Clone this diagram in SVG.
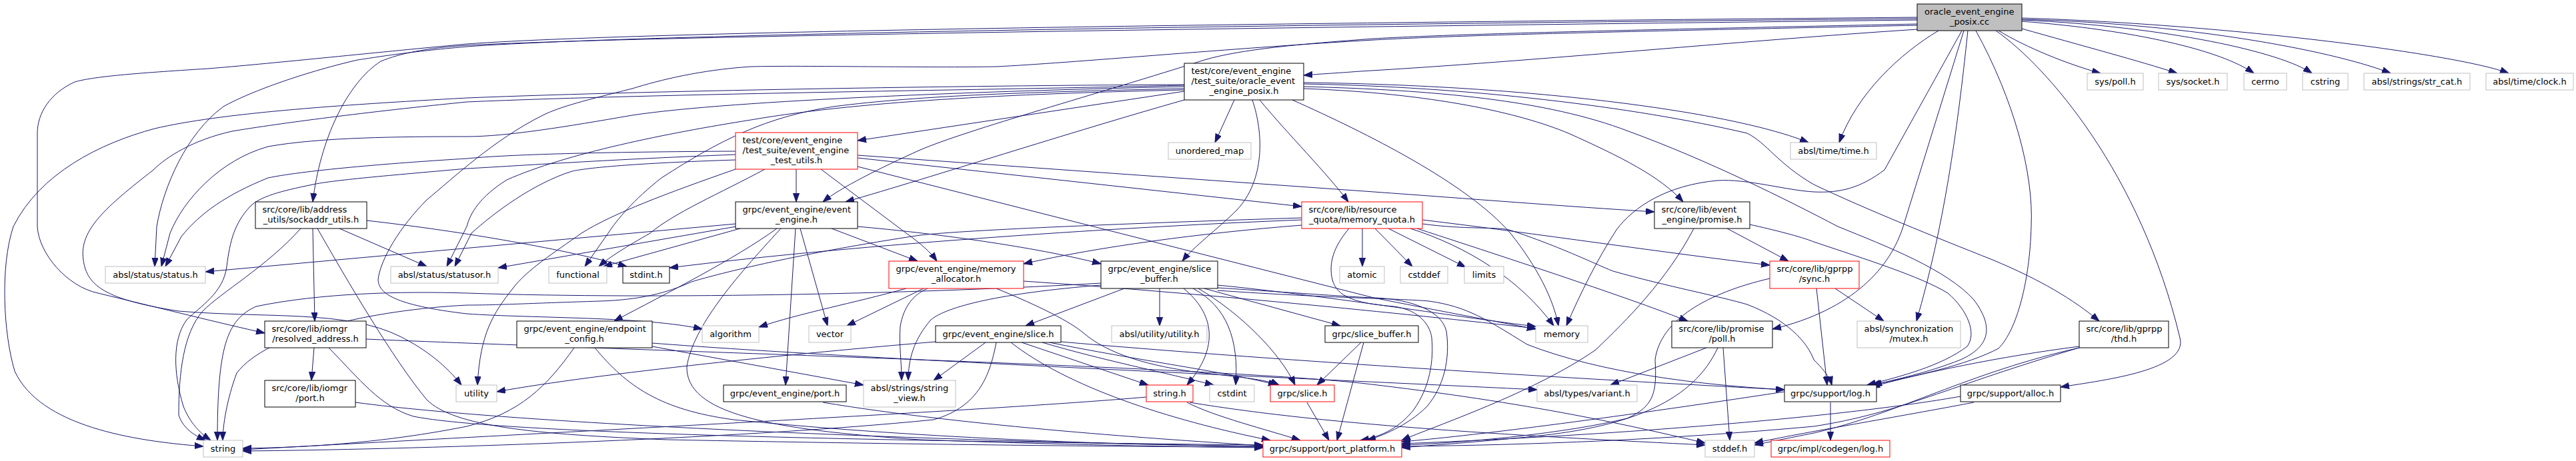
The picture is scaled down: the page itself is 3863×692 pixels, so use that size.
<svg xmlns="http://www.w3.org/2000/svg" width="3863" height="692" viewBox="0 0 3863 692">
<style>
text{font-family:"DejaVu Sans","Liberation Sans",sans-serif;font-size:13px;fill:#000}
.m{text-anchor:middle}
.k rect{fill:#fff;stroke:#000;stroke-width:1}
.g rect{fill:#fff;stroke:#bfbfbf;stroke-width:1}
.r rect{fill:#fff;stroke:#ff0000;stroke-width:1}
.root rect{fill:#bfbfbf;stroke:#000;stroke-width:1}
#edges path{fill:none;stroke:#191970;stroke-width:1;marker-end:url(#a)}
</style>
<defs>
<marker id="a" markerUnits="userSpaceOnUse" viewBox="0 0 14 10" markerWidth="14" markerHeight="10" refX="13" refY="4.65" orient="auto"><path d="M0,0L13,4.65L0,9.3z" fill="#191970" stroke="#191970" stroke-width="1"/></marker>
</defs>
<rect x="0" y="0" width="3863" height="692" fill="#fff"/>
<g id="edges">
<path d="M2997,46 C3040,72 3100,96 3150,110"/>
<path d="M3032,43 C3120,68 3210,92 3265,110"/>
<path d="M3032,32 C3200,45 3330,75 3380,110"/>
<path d="M3032,30 C3250,40 3420,78 3467,110"/>
<path d="M3032,29 C3300,36 3510,80 3585,110"/>
<path d="M3032,27 C3350,37 3690,82 3762,110"/>
<path d="M2907,46 C2850,80 2785,140 2758,214"/>
<path d="M2942,46 L2826,255 C2790,282 2760,290 2720,288 C2680,286 2620,268 2575,271 C2500,278 2450,310 2424,345 C2395,390 2370,440 2349,489"/>
<path d="M2945,46 L2854,340 C2835,400 2780,465 2658,494"/>
<path d="M2951,46 C2935,200 2915,340 2874,482"/>
<path d="M2963,46 C3020,150 3050,260 3046,340 C3044,420 3025,495 2997,523 C2950,548 2870,565 2806,578"/>
<path d="M2993,46 C3070,100 3210,260 3269,507 C3282,555 3160,570 3090,581"/>
<path d="M2875,44 C2600,62 2300,92 2040,107 C2000,110 1980,111 1955,113"/>
<path d="M2875,36 C2500,44 2200,50 2060,58 C1950,66 1860,74 1806,90 C1650,140 1450,195 1380,225 C1320,252 1260,282 1234,303"/>
<path d="M2875,38 C2500,46 2200,52 2060,60 C1850,72 1600,95 1494,100 C1400,102 1200,98 1126,100 C1050,105 990,120 948,133 C880,150 840,160 814,173 C740,210 680,267 640,300 C600,340 570,390 567,420 C568,440 590,458 700,471 C800,478 970,475 1053,494"/>
<path d="M2875,28 C2200,34 1000,48 700,70 C610,78 570,85 536,90 C450,110 370,140 335,160 C280,200 245,280 235,340 L232,400"/>
<path d="M2875,30 C2200,38 1000,52 700,68 C640,72 600,80 571,92 C520,125 480,210 469,303"/>
<path d="M2875,26 C2200,32 1000,44 700,66 C550,80 400,96 312,103 C200,110 140,115 112,123 C75,140 56,170 56,200 L56,340 C58,380 100,430 147,440 C250,465 330,485 397,500"/>
<path d="M1851,150 L1822,214"/>
<path d="M1889,150 C1930,200 1990,260 2022,303"/>
<path d="M1878,150 C1895,200 1897,270 1855,315 C1825,345 1790,370 1773,392"/>
<path d="M1938,150 C2050,200 2200,275 2265,350 C2305,400 2330,450 2337,489"/>
<path d="M1776,137 L1286,211"/>
<path d="M1776,150 C1600,200 1400,265 1268,303"/>
<path d="M1776,127 C1500,128 1000,135 700,147 C500,158 330,170 232,193 C150,215 60,260 20,340 C0,400 5,500 22,557 C60,640 200,662 305,670"/>
<path d="M1776,128 C1500,135 1000,140 700,153 C550,168 420,185 348,197 C290,210 250,235 230,255 C160,310 118,345 125,390 C130,430 160,450 268,467 C400,478 520,465 600,505 C640,525 670,550 692,578"/>
<path d="M1776,130 C1500,136 1100,150 948,173 C850,190 760,205 700,205 C600,205 480,206 402,220 C330,240 275,300 255,350 L242,400"/>
<path d="M1776,133 C1550,138 1380,143 1250,160 C1150,175 1080,210 992,267 C950,300 925,330 912,350 L877,400"/>
<path d="M1776,135 C1550,140 1300,150 1126,180 C1000,200 850,230 760,270 C720,295 705,320 700,340 L670,400"/>
<path d="M1955,124 C2300,128 2600,168 2712,214"/>
<path d="M1955,126 C2200,130 2450,160 2620,200 C2650,215 2665,245 2720,277 C2800,315 2900,355 2988,390 C3060,420 3110,450 3148,482"/>
<path d="M1955,130 C2150,135 2320,150 2442,197 C2560,240 2680,300 2756,340 C2830,370 2920,405 2960,450 C2990,490 2985,520 2940,540 C2890,560 2840,570 2809,578"/>
<path d="M1955,133 C2150,140 2280,170 2352,200 C2430,235 2490,265 2524,303"/>
<path d="M2624,337 C2660,345 2700,355 2720,363 C2800,390 2880,415 2921,440 C2950,465 2965,500 2950,520 C2910,550 2850,565 2800,578"/>
<path d="M2590,343 L2682,392"/>
<path d="M2540,343 C2500,420 2440,480 2393,525 C2300,590 2150,640 2102,661"/>
<path d="M1194,254 L1194,303"/>
<path d="M1103,227 C900,228 760,232 700,238 C600,244 460,255 402,267 C340,292 300,320 272,355 L248,400"/>
<path d="M1103,232 C900,240 760,250 700,253 C600,262 500,270 469,277 C420,287 390,295 375,310 C352,335 345,360 340,400 C335,440 300,460 280,480 C258,510 260,560 275,610 C285,635 300,650 316,661"/>
<path d="M1103,240 C950,245 880,252 858,257 C800,275 740,320 707,350 L682,400"/>
<path d="M1103,254 C1000,290 920,320 872,350 C830,380 790,405 769,433 C740,470 720,500 716,578"/>
<path d="M1147,254 C1080,290 1010,320 975,350 C940,370 915,385 898,400"/>
<path d="M1231,254 L1359,350 C1380,365 1395,378 1405,392"/>
<path d="M1286,233 L2060,288 C2200,298 2350,310 2481,318"/>
<path d="M1286,237 L1952,310"/>
<path d="M1286,250 L2060,447 C2150,465 2230,480 2303,494"/>
<path d="M1165,343 C1100,390 1000,440 921,482"/>
<path d="M1171,343 C1100,420 1040,490 1030,550 C1028,620 1150,645 1380,660 C1600,668 1800,671 1894,672"/>
<path d="M1193,343 L1178,578"/>
<path d="M1200,343 L1241,489"/>
<path d="M1247,343 L1376,392"/>
<path d="M1286,340 C1400,350 1550,370 1651,396"/>
<path d="M1110,343 L905,400"/>
<path d="M1104,340 L747,402"/>
<path d="M1103,336 L308,408"/>
<path d="M451,343 C400,400 330,440 304,467 C275,500 268,560 268,623 C275,645 295,655 308,661"/>
<path d="M469,343 L472,482"/>
<path d="M476,343 C520,420 590,540 640,600 C680,640 800,652 1000,660 C1400,668 1750,671 1894,671"/>
<path d="M509,343 L640,400"/>
<path d="M550,331 C700,348 850,375 940,400"/>
<path d="M471,522 L467,571"/>
<path d="M493,522 C540,570 570,610 620,625 C720,645 1100,660 1894,668"/>
<path d="M549,509 C1000,528 1800,550 2040,575 C2300,605 2450,640 2557,665"/>
<path d="M533,604 C800,640 1500,665 1894,670"/>
<path d="M861,522 C820,580 780,620 700,640 C550,670 420,672 364,673"/>
<path d="M892,522 C940,580 990,615 1100,630 C1400,660 1700,668 1894,670"/>
<path d="M978,520 L1295,578"/>
<path d="M978,515 C1300,540 2000,570 2305,585"/>
<path d="M1359,433 C1280,455 1200,470 1138,491"/>
<path d="M1385,433 L1270,489"/>
<path d="M1391,433 C1370,442 1355,460 1350,490 C1348,520 1352,540 1352,571"/>
<path d="M1494,433 C1560,460 1605,483 1625,500 C1660,530 1720,550 1806,560 C1860,566 1900,570 1918,578"/>
<path d="M1535,422 C1800,440 2100,470 2303,493"/>
<path d="M1686,433 L1538,489"/>
<path d="M1739,433 L1739,489"/>
<path d="M1775,433 C1820,470 1830,520 1780,578"/>
<path d="M1789,433 C1840,460 1858,510 1853,578"/>
<path d="M1797,433 C1860,470 1920,530 1942,578"/>
<path d="M1806,433 L2010,489"/>
<path d="M1826,428 C2000,445 2200,478 2303,490"/>
<path d="M1826,436 C2000,448 2100,448 2143,452 C2200,460 2230,480 2290,517 C2400,560 2550,578 2676,585"/>
<path d="M1651,428 C1500,440 1420,460 1396,480 C1370,510 1362,540 1362,571"/>
<path d="M1651,425 C1400,440 1000,450 700,440 C600,437 480,440 384,460 C340,480 326,520 326,661"/>
<path d="M1826,432 C1950,440 2030,446 2060,447 C2100,448 2160,460 2169,497 C2175,540 2165,580 2140,610 C2110,640 2070,655 2050,661"/>
<path d="M2043,343 L2043,400"/>
<path d="M2062,343 L2118,400"/>
<path d="M2082,343 L2198,401"/>
<path d="M2115,343 C2200,370 2280,420 2330,489"/>
<path d="M2133,330 C2300,350 2500,380 2654,398"/>
<path d="M2125,343 C2300,400 2450,450 2531,482"/>
<path d="M1952,338 C1800,350 1650,370 1535,396"/>
<path d="M1952,327 C1700,335 1450,345 1380,353 C1200,380 1080,410 1037,423 C1000,440 960,450 900,452 C800,455 750,458 700,458 C560,465 400,500 355,560 C340,600 334,640 334,661"/>
<path d="M1952,330 C1700,340 1300,365 1004,402"/>
<path d="M2023,343 C2000,370 1992,395 1998,420 C2005,445 2030,455 2090,460 C2130,465 2145,490 2147,507 C2150,540 2145,580 2120,615 C2100,640 2075,655 2040,661"/>
<path d="M2133,336 C2200,345 2240,340 2263,345 C2340,370 2400,400 2419,407 C2500,430 2580,445 2620,457 C2680,480 2710,513 2720,540 C2740,560 2745,570 2747,578"/>
<path d="M2752,433 L2825,482"/>
<path d="M2724,433 L2740,578"/>
<path d="M2654,418 C2560,440 2490,480 2482,540 C2485,590 2480,610 2440,628 C2350,650 2200,665 2102,668"/>
<path d="M2559,522 L2415,578"/>
<path d="M2584,522 L2594,661"/>
<path d="M2576,522 C2540,600 2450,640 2300,655 C2200,665 2150,668 2102,672"/>
<path d="M3118,520 C3000,535 2880,560 2806,581"/>
<path d="M3118,522 C2950,560 2850,620 2720,650 C2680,658 2650,664 2631,668"/>
<path d="M3118,522 C2920,580 2850,620 2720,640 C2500,660 2300,668 2102,670"/>
<path d="M2745,604 L2745,661"/>
<path d="M2676,588 C2400,630 2200,655 2102,663"/>
<path d="M2940,595 C2800,620 2500,650 2102,666"/>
<path d="M2960,604 C2850,625 2700,650 2631,665"/>
<path d="M2041,514 L1975,578"/>
<path d="M2045,514 L2005,661"/>
<path d="M1960,604 L1993,661"/>
<path d="M1780,604 C1820,625 1900,645 1950,661"/>
<path d="M1719,596 C1500,615 1000,640 364,675"/>
<path d="M1784,604 C2000,640 2300,655 2557,668"/>
<path d="M1234,604 C1450,640 1750,660 1894,669"/>
<path d="M1478,514 L1400,571"/>
<path d="M1532,514 L1722,578"/>
<path d="M1563,514 C1650,540 1750,560 1820,578"/>
<path d="M1574,514 C1700,540 1850,560 1915,578"/>
<path d="M1516,514 C1600,580 1750,630 1905,661"/>
<path d="M1494,514 C1485,560 1470,610 1400,630 C1100,660 600,675 364,677"/>
<path d="M1403,513 C1200,530 900,560 745,588"/>
<path d="M1591,513 C1900,540 2300,565 2676,585"/>
</g>
<g id="n0" class="root"><rect x="2875" y="6" width="157" height="40"/><text x="2886" y="22">oracle_event_engine</text><text class="m" x="2953.5" y="37">_posix.cc</text></g>
<g id="oh" class="k"><rect x="1776" y="95" width="179" height="55"/><text x="1786.5" y="111">test/core/event_engine</text><text x="1786.5" y="126">/test_suite/oracle_event</text><text class="m" x="1865.5" y="141">_engine_posix.h</text></g>
<g id="sp" class="g"><rect x="3130" y="110" width="84" height="25"/><text class="m" x="3172" y="127">sys/poll.h</text></g>
<g id="ss" class="g"><rect x="3237" y="110" width="103" height="25"/><text class="m" x="3288.5" y="127">sys/socket.h</text></g>
<g id="ce" class="g"><rect x="3365" y="110" width="64" height="25"/><text class="m" x="3397" y="127">cerrno</text></g>
<g id="cs" class="g"><rect x="3453" y="110" width="68" height="25"/><text class="m" x="3487" y="127">cstring</text></g>
<g id="sc" class="g"><rect x="3545" y="110" width="159" height="25"/><text class="m" x="3624.5" y="127">absl/strings/str_cat.h</text></g>
<g id="cl" class="g"><rect x="3728" y="110" width="131" height="25"/><text class="m" x="3793.5" y="127">absl/time/clock.h</text></g>
<g id="tt" class="g"><rect x="2685" y="214" width="129" height="25"/><text class="m" x="2749.5" y="231">absl/time/time.h</text></g>
<g id="um" class="g"><rect x="1752" y="214" width="124" height="25"/><text class="m" x="1814" y="231">unordered_map</text></g>
<g id="tu" class="r"><rect x="1103" y="199" width="183" height="55"/><text x="1113.5" y="215">test/core/event_engine</text><text x="1113.5" y="230">/test_suite/event_engine</text><text class="m" x="1194.5" y="245">_test_utils.h</text></g>
<g id="mq" class="r"><rect x="1952" y="303" width="181" height="40"/><text x="1962.5" y="319">src/core/lib/resource</text><text class="m" x="2042.5" y="334">_quota/memory_quota.h</text></g>
<g id="ep" class="k"><rect x="2481" y="303" width="143" height="40"/><text x="2491.5" y="319">src/core/lib/event</text><text class="m" x="2552.5" y="334">_engine/promise.h</text></g>
<g id="ee" class="k"><rect x="1103" y="303" width="183" height="40"/><text x="1113.5" y="319">grpc/event_engine/event</text><text class="m" x="1194.5" y="334">_engine.h</text></g>
<g id="su" class="k"><rect x="383" y="303" width="167" height="40"/><text x="393.5" y="319">src/core/lib/address</text><text class="m" x="466.5" y="334">_utils/sockaddr_utils.h</text></g>
<g id="st" class="g"><rect x="158" y="400" width="150" height="25"/><text class="m" x="233" y="417">absl/status/status.h</text></g>
<g id="so" class="g"><rect x="586" y="400" width="161" height="25"/><text class="m" x="666.5" y="417">absl/status/statusor.h</text></g>
<g id="fn" class="g"><rect x="823" y="400" width="87" height="25"/><text class="m" x="866.5" y="417">functional</text></g>
<g id="si" class="k"><rect x="934" y="400" width="70" height="25"/><text class="m" x="969" y="417">stdint.h</text></g>
<g id="ma" class="r"><rect x="1333" y="392" width="202" height="41"/><text x="1343.5" y="408">grpc/event_engine/memory</text><text class="m" x="1434" y="423">_allocator.h</text></g>
<g id="sb" class="k"><rect x="1651" y="392" width="175" height="41"/><text x="1661.5" y="408">grpc/event_engine/slice</text><text class="m" x="1738.5" y="423">_buffer.h</text></g>
<g id="at" class="g"><rect x="2009" y="400" width="67" height="25"/><text class="m" x="2042.5" y="417">atomic</text></g>
<g id="cd" class="g"><rect x="2100" y="400" width="71" height="25"/><text class="m" x="2135.5" y="417">cstddef</text></g>
<g id="li" class="g"><rect x="2196" y="400" width="59" height="25"/><text class="m" x="2225.5" y="417">limits</text></g>
<g id="sy" class="r"><rect x="2654" y="392" width="134" height="41"/><text x="2664.5" y="408">src/core/lib/gprpp</text><text class="m" x="2721" y="423">/sync.h</text></g>
<g id="ra" class="k"><rect x="397" y="482" width="152" height="40"/><text x="407.5" y="498">src/core/lib/iomgr</text><text class="m" x="473" y="513">/resolved_address.h</text></g>
<g id="ec" class="k"><rect x="775" y="482" width="203" height="40"/><text x="785.5" y="498">grpc/event_engine/endpoint</text><text class="m" x="876.5" y="513">_config.h</text></g>
<g id="al" class="g"><rect x="1053" y="489" width="85" height="25"/><text class="m" x="1095.5" y="506">algorithm</text></g>
<g id="ve" class="g"><rect x="1213" y="489" width="63" height="25"/><text class="m" x="1244.5" y="506">vector</text></g>
<g id="sl" class="k"><rect x="1403" y="489" width="188" height="25"/><text class="m" x="1497" y="506">grpc/event_engine/slice.h</text></g>
<g id="ut" class="g"><rect x="1667" y="489" width="143" height="25"/><text class="m" x="1738.5" y="506">absl/utility/utility.h</text></g>
<g id="gsb" class="k"><rect x="1987" y="489" width="140" height="25"/><text class="m" x="2057" y="506">grpc/slice_buffer.h</text></g>
<g id="me" class="g"><rect x="2303" y="489" width="78" height="25"/><text class="m" x="2342" y="506">memory</text></g>
<g id="po" class="k"><rect x="2507" y="482" width="151" height="40"/><text x="2517.5" y="498">src/core/lib/promise</text><text class="m" x="2582.5" y="513">/poll.h</text></g>
<g id="mu" class="g"><rect x="2785" y="482" width="155" height="40"/><text x="2795.5" y="498">absl/synchronization</text><text class="m" x="2862.5" y="513">/mutex.h</text></g>
<g id="th" class="k"><rect x="3118" y="482" width="134" height="40"/><text x="3128.5" y="498">src/core/lib/gprpp</text><text class="m" x="3185" y="513">/thd.h</text></g>
<g id="ip" class="k"><rect x="397" y="571" width="136" height="40"/><text x="407.5" y="587">src/core/lib/iomgr</text><text class="m" x="465" y="602">/port.h</text></g>
<g id="uy" class="g"><rect x="684" y="578" width="61" height="25"/><text class="m" x="714.5" y="595">utility</text></g>
<g id="ept" class="k"><rect x="1085" y="578" width="184" height="25"/><text class="m" x="1177" y="595">grpc/event_engine/port.h</text></g>
<g id="sv" class="g"><rect x="1295" y="571" width="138" height="40"/><text x="1305.5" y="587">absl/strings/string</text><text class="m" x="1364" y="602">_view.h</text></g>
<g id="sh" class="r"><rect x="1719" y="578" width="70" height="25"/><text class="m" x="1754" y="595">string.h</text></g>
<g id="ci" class="g"><rect x="1814" y="578" width="67" height="25"/><text class="m" x="1847.5" y="595">cstdint</text></g>
<g id="gs" class="r"><rect x="1905" y="578" width="96" height="25"/><text class="m" x="1953" y="595">grpc/slice.h</text></g>
<g id="va" class="g"><rect x="2305" y="578" width="150" height="25"/><text class="m" x="2380" y="595">absl/types/variant.h</text></g>
<g id="lg" class="k"><rect x="2676" y="578" width="138" height="25"/><text class="m" x="2745" y="595">grpc/support/log.h</text></g>
<g id="ac" class="k"><rect x="2940" y="578" width="150" height="25"/><text class="m" x="3015" y="595">grpc/support/alloc.h</text></g>
<g id="str" class="g"><rect x="305" y="661" width="59" height="25"/><text class="m" x="334.5" y="678">string</text></g>
<g id="pp" class="r"><rect x="1894" y="661" width="208" height="25"/><text class="m" x="1998" y="678">grpc/support/port_platform.h</text></g>
<g id="sd" class="g"><rect x="2557" y="661" width="74" height="25"/><text class="m" x="2594" y="678">stddef.h</text></g>
<g id="cl2" class="r"><rect x="2656" y="661" width="178" height="25"/><text class="m" x="2745" y="678">grpc/impl/codegen/log.h</text></g>
</svg>
